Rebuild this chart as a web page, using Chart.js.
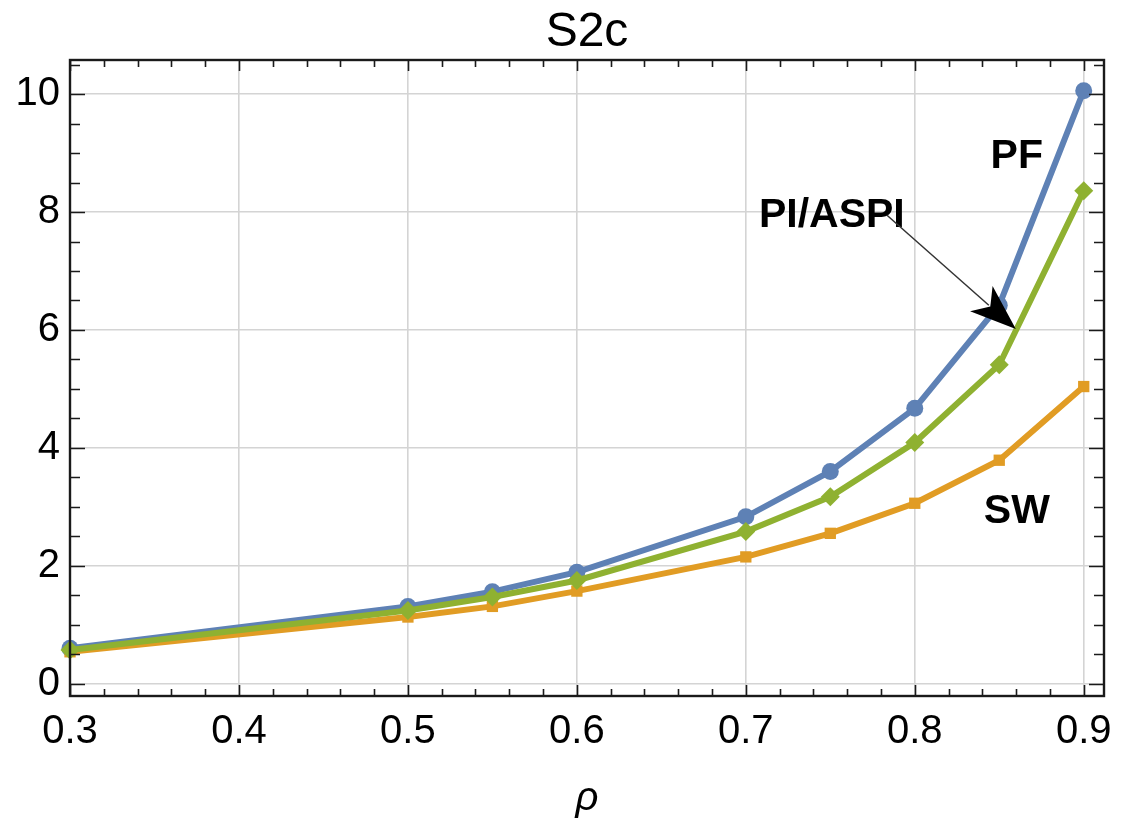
<!DOCTYPE html>
<html>
<head>
<meta charset="utf-8">
<script src="https://cdn.jsdelivr.net/npm/chart.js@4"></script>
<style>
html,body{margin:0;padding:0;background:#fff;}
#wrap{width:1124px;height:821px;}
</style>
</head>
<body>
<div id="wrap"><canvas id="c" width="1124" height="821"></canvas></div>
<script>
// ---- data ----
const rho     = [0.3, 0.5, 0.55, 0.6, 0.7, 0.75, 0.8, 0.85, 0.9];
const pfVals  = [0.60, 1.31, 1.56, 1.89, 2.83, 3.60, 4.67, 6.42, 10.06];
const piVals  = [0.57, 1.24, 1.47, 1.75, 2.58, 3.17, 4.09, 5.41, 8.36];
const swVals  = [0.54, 1.13, 1.31, 1.57, 2.15, 2.55, 3.06, 3.79, 5.04];
const xTickVals = [0.3, 0.4, 0.5, 0.6, 0.7, 0.8, 0.9];
const yTickVals = [0, 2, 4, 6, 8, 10];
const titleText = "S2c";
const xTitle = "ρ";
const seriesLabels = ["PF", "PI/ASPI", "SW"];

const BLUE = "#5E81B5", ORANGE = "#E19C24", GREEN = "#8FB131";
const FONT = "'Liberation Sans', Arial, sans-serif";

function pts(ys){ return rho.map((x,i)=>({x:x, y:ys[i]})); }

const framePlugin = {
  id: 'frame',
  afterDatasetsDraw(chart){
    const ctx = chart.ctx, a = chart.chartArea;
    const xs = chart.scales.x, ys = chart.scales.y;
    ctx.save();
    ctx.strokeStyle = '#1a1a1a';
    ctx.lineWidth = 1.6;
    // x ticks (bottom and top)
    for (let k = 0; k <= 31; k++) {
      const v = 0.3 + k*0.02;
      if (v > xs.max + 1e-9) break;
      const px = Math.round(xs.getPixelForValue(v)) + 0.5;
      const major = (k % 5 === 0);
      const L = major ? 11 : 7;
      ctx.beginPath();
      ctx.moveTo(px, a.bottom); ctx.lineTo(px, a.bottom - L);
      ctx.moveTo(px, a.top); ctx.lineTo(px, a.top + L);
      ctx.stroke();
    }
    // y ticks (left and right)
    for (let k = 0; k <= 21; k++) {
      const v = k*0.5;
      if (v > ys.max) break;
      const py = Math.round(ys.getPixelForValue(v)) + 0.5;
      const major = (k % 4 === 0);
      const L = major ? 15 : 10;
      ctx.beginPath();
      ctx.moveTo(a.left, py); ctx.lineTo(a.left + L, py);
      ctx.moveTo(a.right, py); ctx.lineTo(a.right - L, py);
      ctx.stroke();
    }
    // frame
    ctx.lineWidth = 2.4;
    ctx.strokeRect(a.left, a.top, a.right - a.left, a.bottom - a.top);

    // series labels
    ctx.fillStyle = '#000';
    ctx.font = "bold 41px " + FONT;
    ctx.textAlign = 'center';
    ctx.textBaseline = 'alphabetic';
    ctx.fillText(seriesLabels[0], xs.getPixelForValue(0.8604), ys.getPixelForValue(8.75));
    ctx.fillText(seriesLabels[1], xs.getPixelForValue(0.7509), ys.getPixelForValue(7.75));
    ctx.fillText(seriesLabels[2], xs.getPixelForValue(0.8604), ys.getPixelForValue(2.72));

    // arrow
    const x0 = xs.getPixelForValue(0.7834), y0 = ys.getPixelForValue(7.95);
    const x1 = xs.getPixelForValue(0.8598), y1 = ys.getPixelForValue(6.015);
    const ang = Math.atan2(y1 - y0, x1 - x0);
    const hl = 46, hw = 17;
    const bx = x1 - hl*Math.cos(ang), by = y1 - hl*Math.sin(ang);
    ctx.strokeStyle = '#333';
    ctx.lineWidth = 1.5;
    ctx.beginPath(); ctx.moveTo(x0, y0); ctx.lineTo(bx + 10*Math.cos(ang), by + 10*Math.sin(ang)); ctx.stroke();
    ctx.fillStyle = '#000';
    ctx.beginPath();
    ctx.moveTo(x1, y1);
    ctx.lineTo(bx + hw*Math.sin(ang), by - hw*Math.cos(ang));
    ctx.lineTo(bx + 12*Math.cos(ang), by + 12*Math.sin(ang));
    ctx.lineTo(bx - hw*Math.sin(ang), by + hw*Math.cos(ang));
    ctx.closePath(); ctx.fill();

    // title and x axis title
    const cx = (a.left + a.right)/2;
    ctx.fillStyle = '#000';
    ctx.font = "48px " + FONT;
    ctx.fillText(titleText, cx, 46);
    ctx.font = "italic 40px " + FONT;
    ctx.fillText(xTitle, cx, 810);
    ctx.restore();
  }
};

new Chart(document.getElementById('c'), {
  type: 'scatter',
  data: {
    datasets: [
      { label: seriesLabels[1], data: pts(piVals), showLine: true, borderColor: GREEN, backgroundColor: GREEN,
        borderWidth: 6, pointStyle: 'rectRot', pointRadius: 9.5, pointHoverRadius: 9.5, pointBorderWidth: 0, order: 1, clip: false },
      { label: seriesLabels[2], data: pts(swVals), showLine: true, borderColor: ORANGE, backgroundColor: ORANGE,
        borderWidth: 6, pointStyle: 'rect', pointRadius: 8, pointHoverRadius: 8, pointBorderWidth: 0, order: 2, clip: false },
      { label: seriesLabels[0], data: pts(pfVals), showLine: true, borderColor: BLUE, backgroundColor: BLUE,
        borderWidth: 6, pointStyle: 'circle', pointRadius: 8.5, pointHoverRadius: 8.5, pointBorderWidth: 0, order: 3, clip: false }
    ]
  },
  options: {
    responsive: false,
    animation: false,
    devicePixelRatio: 1,
    layout: { padding: { left: 0, right: 20, top: 60, bottom: 0 } },
    plugins: { legend: { display: false }, title: { display: false }, tooltip: { enabled: false } },
    scales: {
      x: {
        type: 'linear', min: 0.3, max: 0.912,
        afterBuildTicks(s){ s.ticks = xTickVals.map(v=>({value:v})); },
        afterFit(s){ s.height = 125; },
        grid: { color: '#d4d4d4', lineWidth: 1.6, drawTicks: false },
        border: { display: false },
        ticks: { font: { family: FONT, size: 40 }, color: '#000', padding: 12, maxRotation: 0,
                 autoSkip: false, callback: v => v.toFixed(1) }
      },
      y: {
        type: 'linear', min: -0.21, max: 10.58,
        afterBuildTicks(s){ s.ticks = yTickVals.map(v=>({value:v})); },
        afterFit(s){ s.width = 70; },
        grid: { color: '#d4d4d4', lineWidth: 1.6, drawTicks: false },
        border: { display: false },
        ticks: { font: { family: FONT, size: 40 }, color: '#000', padding: 10, autoSkip: false,
                 callback: v => String(v) }
      }
    }
  },
  plugins: [framePlugin]
});
</script>
</body>
</html>
